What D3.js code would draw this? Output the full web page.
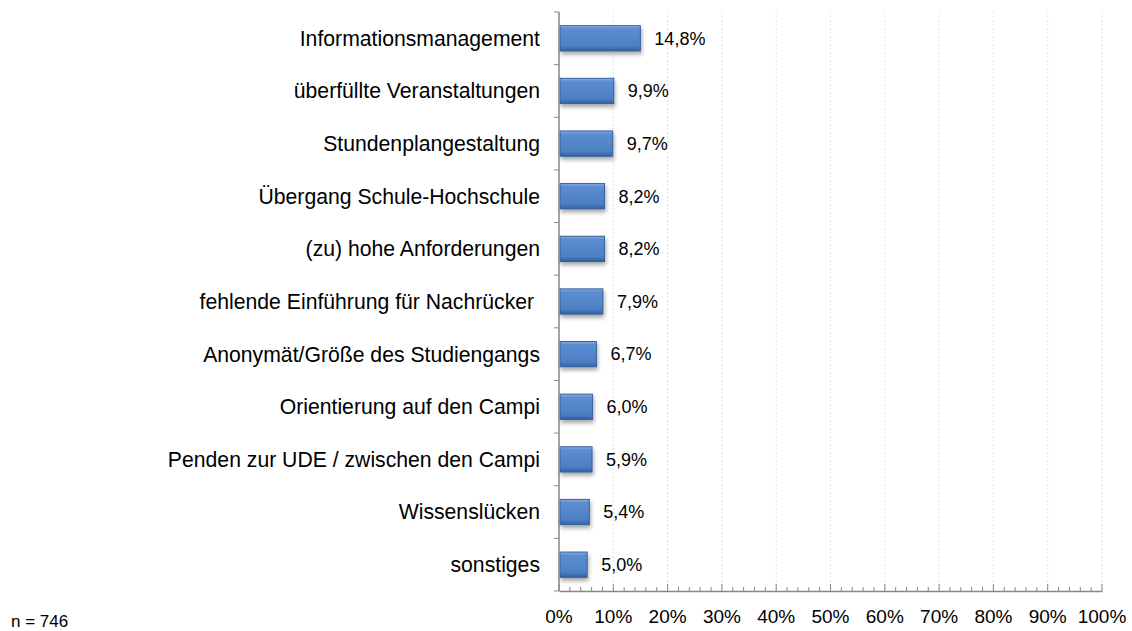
<!DOCTYPE html>
<html>
<head>
<meta charset="utf-8">
<script src="https://cdn.jsdelivr.net/npm/d3@7"></script>
<style>
  body { margin: 0; background: #fff; }
  text { font-family: "Liberation Sans", Arial, sans-serif; fill: #000; }
</style>
</head>
<body>
<script>
'use strict';

// chart data
const categories = [
  "Informationsmanagement",
  "überfüllte Veranstaltungen",
  "Stundenplangestaltung",
  "Übergang Schule-Hochschule",
  "(zu) hohe Anforderungen",
  "fehlende Einführung für Nachrücker ",
  "Anonymät/Größe des Studiengangs",
  "Orientierung auf den Campi",
  "Penden zur UDE / zwischen den Campi",
  "Wissenslücken",
  "sonstiges"
];
const values = [14.8, 9.9, 9.7, 8.2, 8.2, 7.9, 6.7, 6.0, 5.9, 5.4, 5.0];
const xTicks = [0, 10, 20, 30, 40, 50, 60, 70, 80, 90, 100];
const sampleNote = "n = 746";

const width = 1132, height = 631;
const m = { left: 559, top: 12 };
const axisY = 591, axisRight = 1102;

const svg = d3.select('body').append('svg')
  .attr('width', width)
  .attr('height', height);

// bar look: gradient + soft shadow
const defs = svg.append('defs');
const grad = defs.append('linearGradient')
  .attr('id', 'barGrad').attr('x1', 0).attr('y1', 0).attr('x2', 0).attr('y2', 1);
grad.append('stop').attr('offset', '0%').attr('stop-color', '#8db1df');
grad.append('stop').attr('offset', '12%').attr('stop-color', '#5c8dd0');
grad.append('stop').attr('offset', '80%').attr('stop-color', '#4d7fc4');
grad.append('stop').attr('offset', '100%').attr('stop-color', '#34609c');

const shadow = defs.append('filter').attr('id', 'shadow')
  .attr('x', '-20%').attr('y', '-20%').attr('width', '150%').attr('height', '170%');
shadow.append('feGaussianBlur').attr('in', 'SourceAlpha').attr('stdDeviation', 2);
shadow.append('feOffset').attr('dx', 1).attr('dy', 3).attr('result', 'off');
shadow.append('feComponentTransfer').append('feFuncA').attr('type', 'linear').attr('slope', 0.35);
const merge = shadow.append('feMerge');
merge.append('feMergeNode');
merge.append('feMergeNode').attr('in', 'SourceGraphic');

// scales
const x = d3.scaleLinear().domain([0, 100]).range([m.left, axisRight]);
const y = d3.scaleBand().domain(categories).range([m.top, axisY]).paddingInner(0.52).paddingOuter(0.26);
const yOuter = d3.scaleBand().domain(categories).range([m.top, axisY]);

// dashed grid lines
svg.append('g')
  .selectAll('line')
  .data(xTicks.slice(1))
  .enter().append('line')
  .attr('x1', d => x(d)).attr('x2', d => x(d))
  .attr('y1', m.top).attr('y2', axisY)
  .attr('stroke', '#e2e2e2')
  .attr('stroke-dasharray', '2,2');

// bars
svg.append('g')
  .selectAll('rect')
  .data(values)
  .enter().append('rect')
  .attr('x', x(0) + 1)
  .attr('y', (d, i) => y(categories[i]))
  .attr('width', d => x(d) - x(0))
  .attr('height', y.bandwidth())
  .attr('fill', 'url(#barGrad)')
  .attr('stroke', '#34609c')
  .attr('stroke-width', 1)
  .attr('filter', 'url(#shadow)');

// value labels
svg.append('g')
  .selectAll('text')
  .data(values)
  .enter().append('text')
  .attr('x', d => x(d) + 15)
  .attr('y', (d, i) => y(categories[i]) + y.bandwidth() / 2)
  .attr('dy', '0.35em')
  .style('font-size', '18px')
  .text(d => d.toFixed(1).replace('.', ',') + '%');

// y axis: line, ticks between categories
const yAxis = svg.append('g');
yAxis.append('line')
  .attr('x1', m.left).attr('x2', m.left)
  .attr('y1', m.top).attr('y2', axisY)
  .attr('stroke', '#868686').attr('stroke-width', 1.5);
yAxis.selectAll('.tk')
  .data(categories.concat(['end']))
  .enter().append('line')
  .attr('x1', m.left - 5).attr('x2', m.left)
  .attr('y1', (d, i) => i < categories.length ? yOuter(d) : axisY)
  .attr('y2', (d, i) => i < categories.length ? yOuter(d) : axisY)
  .attr('stroke', '#868686');
yAxis.selectAll('.lbl')
  .data(categories)
  .enter().append('text')
  .attr('x', 540)
  .attr('y', d => y(d) + y.bandwidth() / 2)
  .attr('dy', '0.35em')
  .attr('text-anchor', 'end')
  .style('font-size', '21.2px')
  .style('white-space', 'pre')
  .text(d => d);

// x axis with minor ticks
const xAxisG = svg.append('g').attr('transform', `translate(0,${axisY})`);
xAxisG.call(d3.axisBottom(x).tickValues(xTicks).tickSize(0).tickFormat(''));
xAxisG.select('.domain').attr('stroke', '#868686').attr('stroke-width', 1.5);
xAxisG.selectAll('.minor')
  .data(d3.range(0, 101, 2))
  .enter().append('line')
  .attr('x1', d => x(d)).attr('x2', d => x(d))
  .attr('y1', 0).attr('y2', d => d % 10 === 0 ? -7 : -4)
  .attr('stroke', '#868686');
xAxisG.selectAll('.xl')
  .data(xTicks)
  .enter().append('text')
  .attr('x', d => x(d))
  .attr('y', 32)
  .attr('text-anchor', 'middle')
  .style('font-size', '19px')
  .text(d => d + '%');

// sample size note
svg.append('text')
  .attr('x', 11)
  .attr('y', 627)
  .style('font-size', '17px')
  .text(sampleNote);
</script>
</body>
</html>
